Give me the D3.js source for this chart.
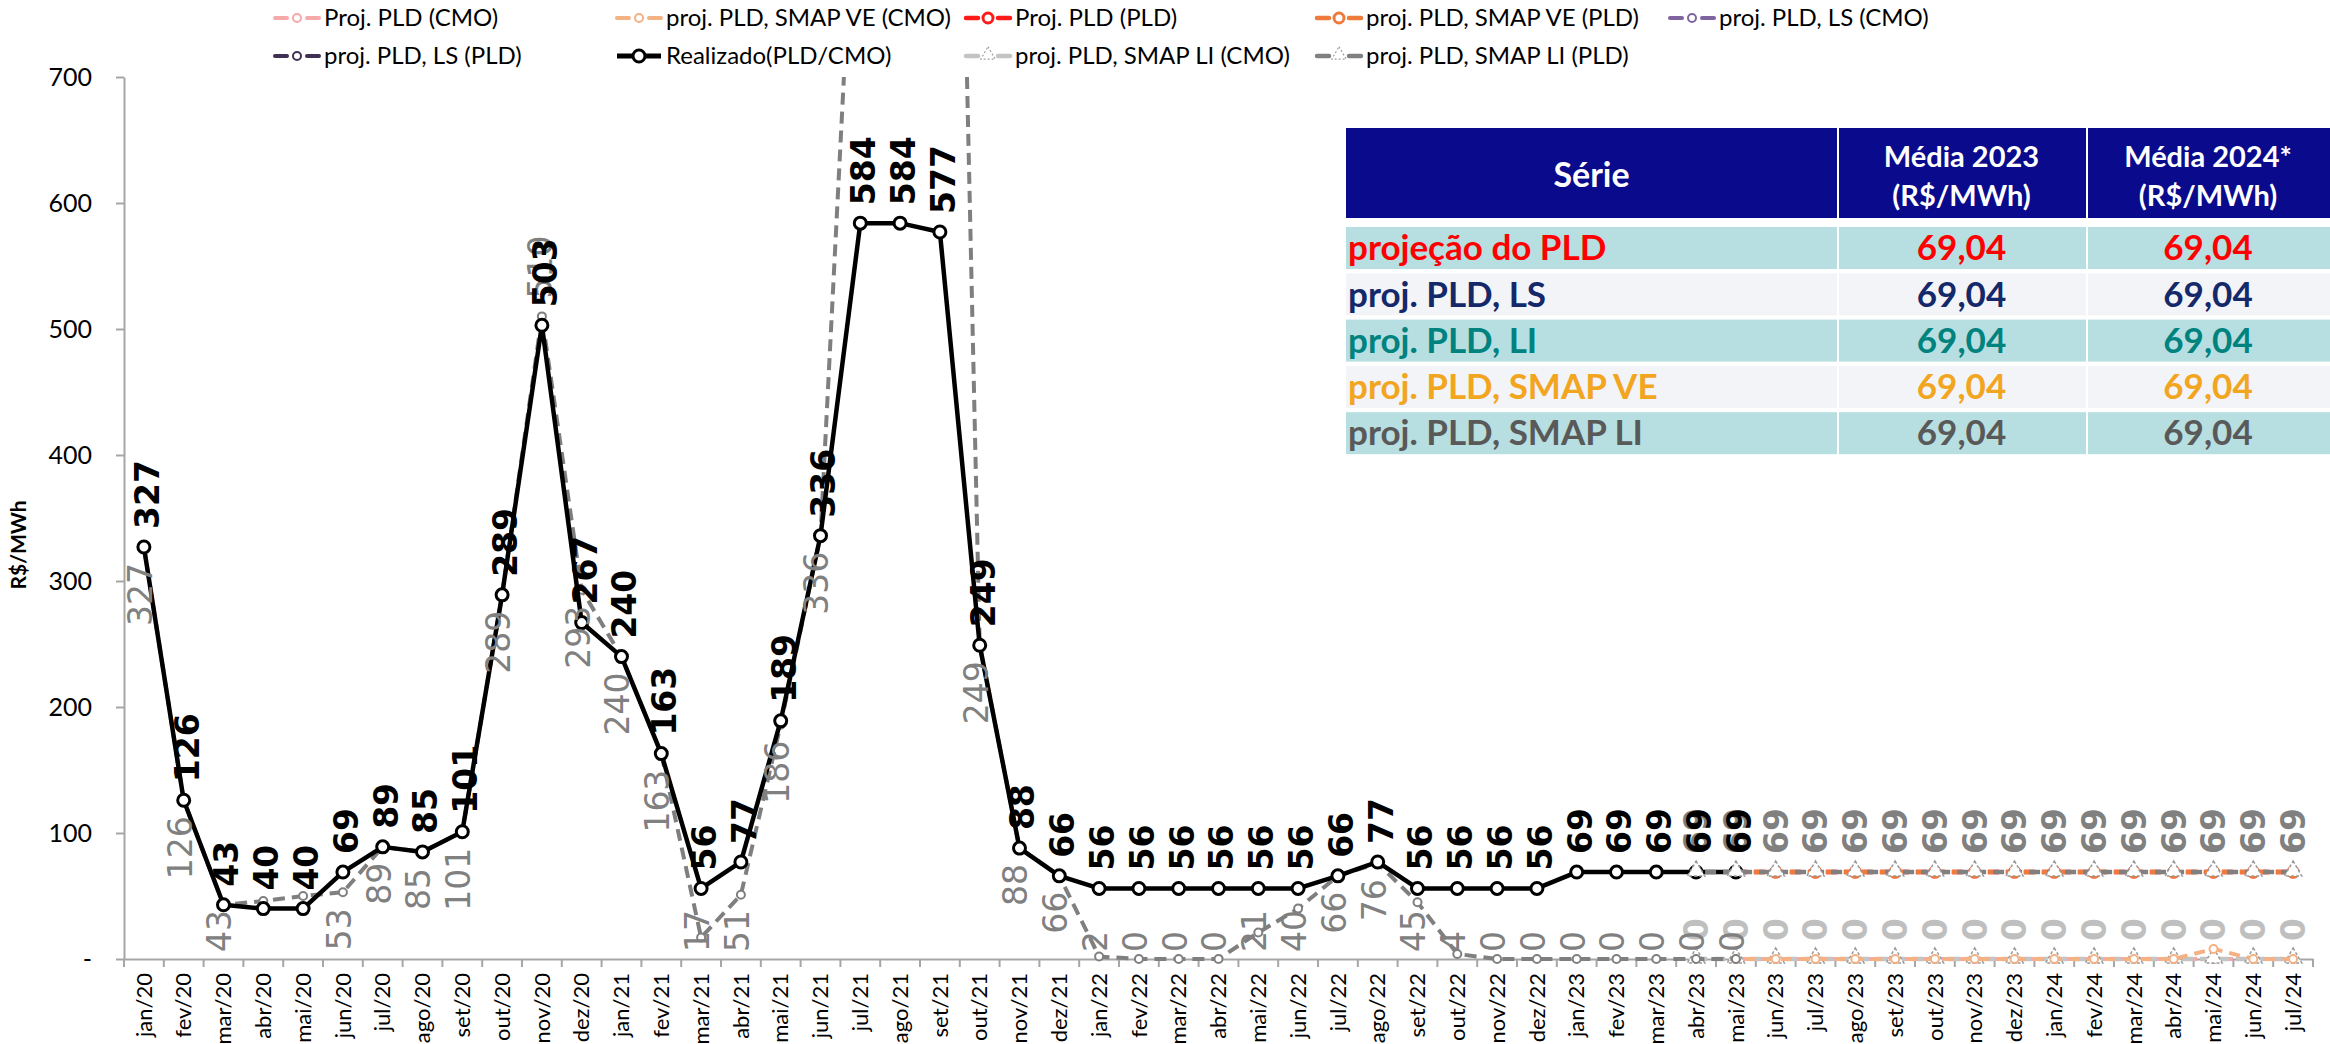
<!DOCTYPE html>
<html>
<head>
<meta charset="utf-8">
<script src="https://cdn.jsdelivr.net/npm/d3@7"></script>
<style>
  body { margin: 0; background: #fff; }
  svg { display: block; }
</style>
</head>
<body>
<div id="viz-container"></div>
<script>
// categories
const months = [
  "jan/20","fev/20","mar/20","abr/20","mai/20","jun/20","jul/20","ago/20","set/20","out/20","nov/20","dez/20",
  "jan/21","fev/21","mar/21","abr/21","mai/21","jun/21","jul/21","ago/21","set/21","out/21","nov/21","dez/21",
  "jan/22","fev/22","mar/22","abr/22","mai/22","jun/22","jul/22","ago/22","set/22","out/22","nov/22","dez/22",
  "jan/23","fev/23","mar/23","abr/23","mai/23","jun/23","jul/23","ago/23","set/23","out/23","nov/23","dez/23",
  "jan/24","fev/24","mar/24","abr/24","mai/24","jun/24","jul/24"
];

// realizado PLD (jan/20 .. mai/23)
const realizado = [
  327,126,43,40,40,69,89,85,101,289,503,267,
  240,163,56,77,189,336,584,584,577,249,88,66,
  56,56,56,56,56,56,66,77,56,56,56,56,
  69,69,69,69,69
];

// CMO historico, linha cinza tracejada (jan/20 .. mai/23)
const cmoHist = [
  327,126,43,46,50,53,89,85,101,289,510,293,
  240,163,17,51,186,336,955,1300,1660,249,88,66,
  2,0,0,0,21,40,66,76,45,4,0,0,
  0,0,0,0,0
];

// projecoes (abr/23 .. jul/24)
const projMonths = ["abr/23","mai/23","jun/23","jul/23","ago/23","set/23","out/23","nov/23","dez/23",
  "jan/24","fev/24","mar/24","abr/24","mai/24","jun/24","jul/24"];
const pldCmo    = [null,0,0,0,0,0,0,0,0,0,0,0,0,0,0,0];
const smapVeCmo = [null,0,0,0,0,0,0,0,0,0,0,0,0,8,0,0];
const pldPld    = [null,69,69,69,69,69,69,69,69,69,69,69,69,69,69,69];
const smapVePld = [null,69,69,69,69,69,69,69,69,69,69,69,69,69,69,69];
const lsCmo     = [null,0,0,0,0,0,0,0,0,0,0,0,0,0,0,0];
const lsPld     = [null,69,69,69,69,69,69,69,69,69,69,69,69,69,69,69];
const smapLiCmo = [0,0,0,0,0,0,0,0,0,0,0,0,0,0,0,0];
const smapLiPld = [69,69,69,69,69,69,69,69,69,69,69,69,69,69,69,69];

const yTicks = [0,100,200,300,400,500,600,700];

const legendNames = [
  "Proj. PLD (CMO)","proj. PLD, SMAP VE (CMO)","Proj. PLD (PLD)","proj. PLD, SMAP VE (PLD)","proj. PLD, LS (CMO)",
  "proj. PLD, LS (PLD)","Realizado(PLD/CMO)","proj. PLD, SMAP LI (CMO)","proj. PLD, SMAP LI (PLD)"
];

// tabela
const tableHeader = [["Série"], ["Média 2023", "(R$/MWh)"], ["Média 2024*", "(R$/MWh)"]];
const tableSeries = ["projeção do PLD","proj. PLD, LS","proj. PLD, LI","proj. PLD, SMAP VE","proj. PLD, SMAP LI"];
const media2023 = ["69,04","69,04","69,04","69,04","69,04"];
const media2024 = ["69,04","69,04","69,04","69,04","69,04"];

// gray labels that sit above / are hidden
const grayLabelAbove = ["nov/20"];
const grayLabelHidden = ["abr/20","mai/20"];

const W = 2330, H = 1044;
const labFont = "'DejaVu Sans',sans-serif";
const txtFont = "Lato, 'Open Sans', sans-serif";

let viz = d3.select("#viz-container")
  .append("svg")
    .attr("width", W)
    .attr("height", H);

let x = d3.scaleBand().domain(months).range([124, 2313]).padding(0);
let y = d3.scaleLinear().domain([0, 700]).range([959, 77]);
let cx = m => x(m) + x.bandwidth() / 2;

// styles for each series
const styles = {
  "Proj. PLD (CMO)":          { color: "#F7A9A9", w: 4, dash: "11 7", marker: "circle", r: 4 },
  "proj. PLD, SMAP VE (CMO)": { color: "#F4B183", w: 4, dash: "11 7", marker: "circle", r: 4 },
  "Proj. PLD (PLD)":          { color: "#FF1A1A", w: 4.5, dash: "11 7", marker: "circle", r: 5 },
  "proj. PLD, SMAP VE (PLD)": { color: "#EE7A3C", w: 4.5, dash: "11 7", marker: "circle", r: 5 },
  "proj. PLD, LS (CMO)":      { color: "#8064A2", w: 4, dash: "11 7", marker: "circle", r: 4 },
  "proj. PLD, LS (PLD)":      { color: "#3F3151", w: 4, dash: "11 7", marker: "circle", r: 4 },
  "Realizado(PLD/CMO)":       { color: "#000000", w: 4.5, dash: null, marker: "circle", r: 6 },
  "proj. PLD, SMAP LI (CMO)": { color: "#C4C4C4", w: 4.5, dash: "11 7", marker: "triangle", r: 6 },
  "proj. PLD, SMAP LI (PLD)": { color: "#808080", w: 4.5, dash: "11 7", marker: "triangle", r: 6 }
};

// ---- axes ----
let yAxis = viz.append("g")
  .attr("transform", "translate(124,0)")
  .call(d3.axisLeft(y).tickValues(yTicks).tickFormat(d => d === 0 ? "-" : d).tickSize(8).tickSizeOuter(0).tickPadding(24));
yAxis.select(".domain").attr("stroke", "#A6A6A6").attr("stroke-width", 2);
yAxis.selectAll(".tick line").attr("stroke", "#A6A6A6").attr("stroke-width", 2);
yAxis.selectAll(".tick text").attr("font-family", txtFont).attr("font-size", 25).attr("fill", "#000");

let xAxis = viz.append("g")
  .attr("transform", "translate(0,959)")
  .call(d3.axisBottom(x).tickSize(0).tickSizeOuter(0).tickPadding(0));
xAxis.select(".domain").attr("stroke", "#A6A6A6").attr("stroke-width", 2);
xAxis.selectAll(".tick text")
  .attr("font-family", txtFont).attr("font-size", 22).attr("fill", "#000")
  .attr("text-anchor", "end")
  .attr("transform", "translate(0,14) rotate(-90)")
  .attr("x", 0).attr("y", 0).attr("dy", "0.35em");
// tick marks between categories
xAxis.selectAll(".sep")
  .data(months.concat(["end"]))
  .enter().append("line")
    .attr("x1", (d, i) => i < months.length ? x(d) : x.range()[1])
    .attr("x2", (d, i) => i < months.length ? x(d) : x.range()[1])
    .attr("y1", 0).attr("y2", 8)
    .attr("stroke", "#A6A6A6").attr("stroke-width", 2);

viz.append("text")
  .attr("transform", "translate(26,545) rotate(-90)")
  .attr("text-anchor", "middle")
  .attr("font-family", txtFont).attr("font-weight", "bold").attr("font-size", 21)
  .text("R$/MWh");

// ---- series ----
viz.append("clipPath").attr("id", "plotclip")
  .append("rect").attr("x", 100).attr("y", 77).attr("width", 2230).attr("height", 900);

let plot = viz.append("g").attr("clip-path", "url(#plotclip)");

let line = d3.line()
  .defined(d => d.v != null)
  .x(d => cx(d.m))
  .y(d => y(d.v));

function pts(ms, vals) {
  return ms.map((m, i) => ({ m: m, v: vals[i] })).filter(d => d.v != null);
}

function drawSeries(data, st, offset) {
  plot.append("path")
    .datum(data)
    .attr("d", line)
    .attr("fill", "none")
    .attr("stroke", st.color)
    .attr("stroke-width", st.w)
    .attr("stroke-dasharray", st.dash)
    .attr("stroke-dashoffset", offset || 0)
    .attr("stroke-linejoin", "round");
  if (st.marker === "circle") {
    plot.selectAll(null).data(data).enter().append("circle")
      .attr("cx", d => cx(d.m)).attr("cy", d => y(d.v))
      .attr("r", st.r)
      .attr("fill", "#fff").attr("stroke", st.color).attr("stroke-width", st.r > 4 ? 3 : 2);
  } else {
    plot.selectAll(null).data(data).enter().append("path")
      .attr("transform", d => `translate(${cx(d.m)},${y(d.v) - 1})`)
      .attr("d", d3.symbol(d3.symbolTriangle, 130))
      .attr("fill", "#fff").attr("stroke", "#9A9A9A").attr("stroke-width", 1.5)
      .attr("stroke-dasharray", "3 2");
  }
}

// zero line series first (bottom)
drawSeries(pts(projMonths, lsCmo), styles["proj. PLD, LS (CMO)"]);
drawSeries(pts(projMonths, pldCmo), styles["Proj. PLD (CMO)"]);
drawSeries(pts(projMonths, smapLiCmo), styles["proj. PLD, SMAP LI (CMO)"]);
drawSeries(pts(projMonths, smapVeCmo), styles["proj. PLD, SMAP VE (CMO)"], 9);

// historical CMO
drawSeries(pts(months, cmoHist), { color: "#7F7F7F", w: 4, dash: "12 7", marker: "circle", r: 4 });

// 69 line
drawSeries(pts(projMonths, lsPld), styles["proj. PLD, LS (PLD)"]);
drawSeries(pts(projMonths, pldPld), styles["Proj. PLD (PLD)"]);
drawSeries(pts(projMonths, smapVePld), styles["proj. PLD, SMAP VE (PLD)"]);

// realizado
drawSeries(pts(months, realizado), styles["Realizado(PLD/CMO)"]);
drawSeries(pts(projMonths, smapLiPld), styles["proj. PLD, SMAP LI (PLD)"], 9);

// ---- labels ----
let labels = viz.append("g");
const clampBottom = 952;
const labSize = 33;

function labelAbove(m, v, color, weight, dx) {
  labels.append("text")
    .attr("transform", `translate(${cx(m) + (dx || 0)},${y(v) - 18}) rotate(-90)`)
    .attr("text-anchor", "start").attr("dy", "0.36em")
    .attr("font-family", labFont).attr("font-size", labSize)
    .attr("font-weight", weight).attr("fill", color)
    .text(v);
}

function labelBelow(m, v, color) {
  let t = labels.append("text")
    .attr("text-anchor", "end").attr("dy", "0.36em")
    .attr("font-family", labFont).attr("font-size", labSize)
    .attr("fill", color)
    .text(v);
  let L = t.node().getComputedTextLength();
  let ay = Math.min(y(v) + 16, clampBottom - L);
  t.attr("transform", `translate(${cx(m) - 4},${ay}) rotate(-90)`);
}

// projection labels
projMonths.forEach((m, i) => labelAbove(m, smapLiCmo[i], "#BFBFBF", "bold", 0));
projMonths.forEach((m, i) => labelAbove(m, smapLiPld[i], "#808080", "bold", 0));

// historical gray labels
months.forEach((m, i) => {
  let v = cmoHist[i];
  if (v == null || v > 700 || grayLabelHidden.includes(m)) return;
  if (grayLabelAbove.includes(m)) labelAbove(m, v, "#808080", "normal", -2);
  else labelBelow(m, v, "#808080");
});

// realizado labels
months.forEach((m, i) => {
  if (realizado[i] == null) return;
  labelAbove(m, realizado[i], "#000", "bold", 3);
});

// ---- legend ----
let legend = viz.append("g");
const legX = [275, 617, 966, 1317, 1670];
const legY = [18, 56];

legendNames.forEach((name, i) => {
  let st = styles[name];
  let gx = legX[i < 5 ? i : i - 5];
  let gy = legY[i < 5 ? 0 : 1];
  let g = legend.append("g").attr("transform", `translate(${gx},${gy})`);
  if (st.dash) {
    g.append("line").attr("x1", 0).attr("x2", 12).attr("y1", 0).attr("y2", 0)
      .attr("stroke", st.color).attr("stroke-width", st.w).attr("stroke-linecap", "round");
    g.append("line").attr("x1", 32).attr("x2", 44).attr("y1", 0).attr("y2", 0)
      .attr("stroke", st.color).attr("stroke-width", st.w).attr("stroke-linecap", "round");
  } else {
    g.append("line").attr("x1", 0).attr("x2", 44).attr("y1", 0).attr("y2", 0)
      .attr("stroke", st.color).attr("stroke-width", 5);
  }
  if (st.marker === "circle") {
    g.append("circle").attr("cx", 22).attr("cy", 0).attr("r", st.r)
      .attr("fill", "#fff").attr("stroke", st.color).attr("stroke-width", st.r > 4 ? 3 : 2);
  } else {
    g.append("path").attr("transform", "translate(22,-1)")
      .attr("d", d3.symbol(d3.symbolTriangle, 90))
      .attr("fill", "#fff").attr("stroke", "#A0A0A0").attr("stroke-width", 1.2)
      .attr("stroke-dasharray", "2 2");
  }
  g.append("text").attr("x", 49).attr("y", 0).attr("dy", "0.35em")
    .attr("font-family", txtFont).attr("font-size", 24)
    .text(name);
});

// ---- table ----
let table = viz.append("g");
const colEdges = [1346, 1837, 2086, 2330];
const rowColors = ["#B7DEE0", "#F3F4F8", "#B7DEE0", "#F3F4F8", "#B7DEE0"];
const textColors = ["#FF0000", "#14286A", "#00827F", "#F2A51F", "#595959"];

// header
tableHeader.forEach((lines, c) => {
  let x0 = colEdges[c], x1 = colEdges[c + 1];
  table.append("rect")
    .attr("x", x0 + (c > 0 ? 2 : 0)).attr("y", 128)
    .attr("width", x1 - x0 - (c > 0 ? 2 : 0)).attr("height", 90)
    .attr("fill", "#0A0A8C");
  lines.forEach((t, k) => {
    table.append("text")
      .attr("x", (x0 + x1) / 2)
      .attr("y", lines.length === 1 ? 175 : (k === 0 ? 157 : 196))
      .attr("dy", "0.35em").attr("text-anchor", "middle")
      .attr("font-family", txtFont).attr("font-weight", "bold")
      .attr("font-size", lines.length === 1 ? 34 : 29)
      .attr("fill", "#fff")
      .text(t);
  });
});

// rows
tableSeries.forEach((s, r) => {
  let ry = 227 + r * 46.3;
  let vals = [s, media2023[r], media2024[r]];
  vals.forEach((t, c) => {
    let x0 = colEdges[c], x1 = colEdges[c + 1];
    table.append("rect")
      .attr("x", x0 + (c > 0 ? 2 : 0)).attr("y", ry)
      .attr("width", x1 - x0 - (c > 0 ? 2 : 0)).attr("height", 42)
      .attr("fill", rowColors[r]);
    table.append("text")
      .attr("x", c === 0 ? x0 + 2 : (x0 + x1) / 2)
      .attr("y", ry + 21).attr("dy", "0.35em")
      .attr("text-anchor", c === 0 ? "start" : "middle")
      .attr("font-family", txtFont).attr("font-weight", "bold").attr("font-size", 35)
      .attr("fill", textColors[r])
      .text(t);
  });
});
</script>
</body>
</html>
